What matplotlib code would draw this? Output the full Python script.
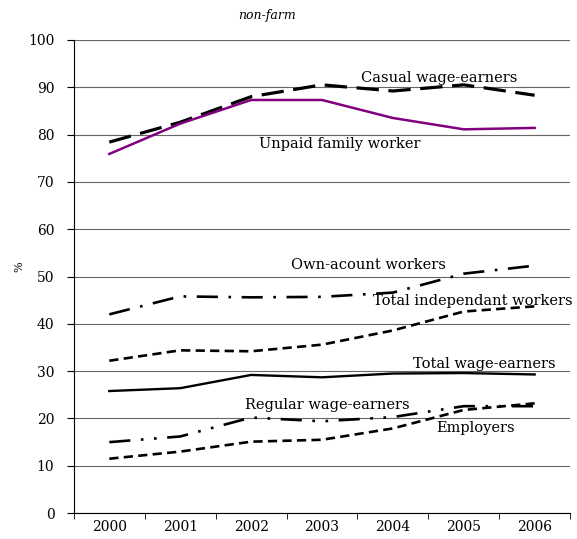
import matplotlib
matplotlib.use("Agg")
import matplotlib.pyplot as plt

plt.rcParams['font.family'] = ['DejaVu Serif']

years = ['2000', '2001', '2002', '2003', '2004', '2005', '2006']
casual = [78.4, 82.6, 88.0, 90.5, 89.2, 90.5, 88.3]
unpaid = [75.9, 82.3, 87.3, 87.3, 83.5, 81.1, 81.4]
own_account = [42.0, 45.8, 45.6, 45.7, 46.6, 50.6, 52.3]
total_indep = [32.2, 34.4, 34.2, 35.6, 38.6, 42.6, 43.7]
total_wage = [25.8, 26.4, 29.2, 28.7, 29.5, 29.6, 29.3]
regular_wage = [15.0, 16.2, 20.2, 19.4, 20.3, 22.6, 22.6]
employers = [11.5, 13.0, 15.1, 15.5, 17.9, 21.8, 23.2]

fig = plt.figure(figsize=(5.77, 5.39), dpi=100)
ax = fig.add_axes([0.128, 0.048, 0.86, 0.878])
x = range(len(years))

ax.plot(x, casual, color='black', lw=2.3, dashes=(7, 3))
ax.plot(x, unpaid, color='#800080', lw=1.8)
ax.plot(x, own_account, color='black', lw=1.9, dashes=(8, 4, 1, 4))
ax.plot(x, total_indep, color='black', lw=1.9, dashes=(3.5, 2))
ax.plot(x, total_wage, color='black', lw=1.7)
ax.plot(x, regular_wage, color='black', lw=1.9, dashes=(8, 4, 1, 4, 1, 4))
ax.plot(x, employers, color='black', lw=1.9, dashes=(3.5, 2))

ax.set_xlim(-0.5, 6.5)
ax.set_ylim(0, 100)
ax.set_yticks(range(0, 101, 10))
ax.set_xticks(x)
ax.set_xticklabels(years)
ax.set_xticks([i - 0.5 for i in range(8)], minor=True)
ax.tick_params(axis='x', which='major', length=0, pad=5, labelsize=10)
ax.tick_params(axis='x', which='minor', length=4, direction='out')
ax.tick_params(axis='y', length=5, direction='out', labelsize=10, pad=9)
ax.grid(axis='y', color='#666666', lw=0.8)
ax.set_axisbelow(True)
for s in ['top', 'right']:
    ax.spines[s].set_visible(False)
ax.set_ylabel('%', fontsize=8)
ax.yaxis.set_label_coords(-0.1, 0.52)

fs = 10.5
ax.text(4.66, 92.0, 'Casual wage-earners', ha='center', va='center', fontsize=fs)
ax.text(3.25, 78.0, 'Unpaid family worker', ha='center', va='center', fontsize=fs)
ax.text(3.65, 52.4, 'Own-acount workers', ha='center', va='center', fontsize=fs)
ax.text(5.13, 44.8, 'Total independant workers', ha='center', va='center', fontsize=fs)
ax.text(5.29, 31.5, 'Total wage-earners', ha='center', va='center', fontsize=fs)
ax.text(3.07, 22.8, 'Regular wage-earners', ha='center', va='center', fontsize=fs)
ax.text(5.17, 18.0, 'Employers', ha='center', va='center', fontsize=fs)

fig.text(0.463, 0.972, 'non-farm', ha='center', va='center', fontsize=9, style='italic')

fig.savefig('out.png', dpi=100)
